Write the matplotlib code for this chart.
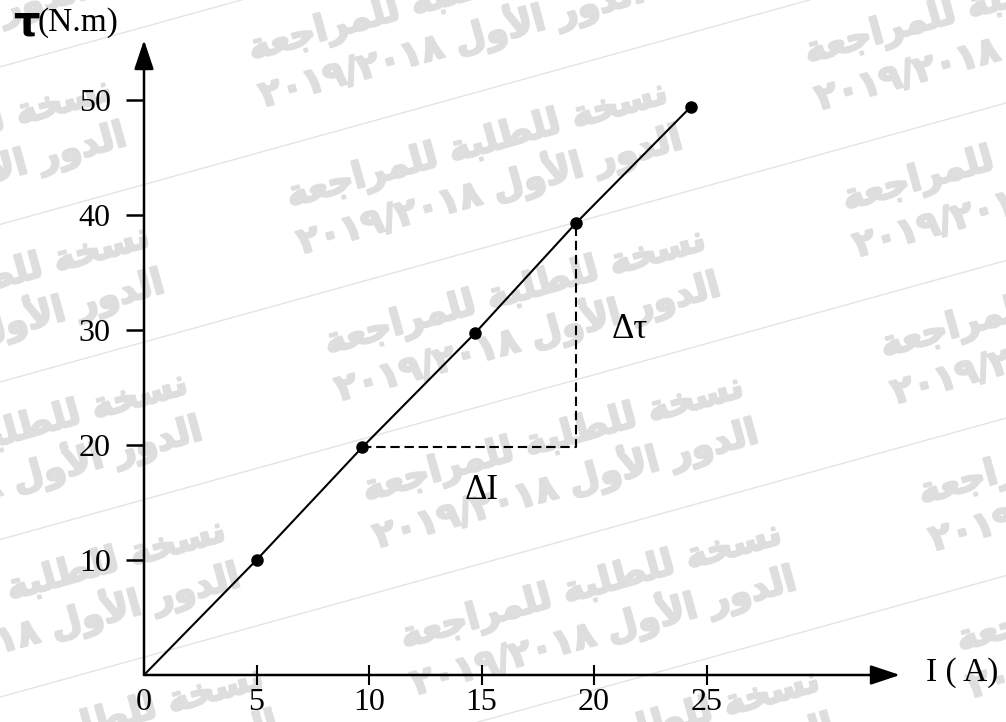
import numpy as np
import matplotlib
matplotlib.use("Agg")
import matplotlib.pyplot as plt
import matplotlib.patheffects as pe
from matplotlib.lines import Line2D

# torque vs current
current = [5.0, 9.7, 14.7, 19.2, 24.3]
torque = [10.0, 19.8, 29.7, 39.3, 49.4]
x_ticks = [0, 5, 10, 15, 20, 25]
y_ticks = [10, 20, 30, 40, 50]

# watermark text (pre-shaped Arabic presentation forms, visual order)
wm_line1 = ("\uFE94\uFECC\uFE9F\uFE8D\uFEAE\uFEE4\uFEE0\uFEDF "
            "\uFE94\uFE92\uFEE0\uFEC4\uFEE0\uFEDF "
            "\uFE94\uFEA8\uFEB4\uFEE7")
wm_line2 = ("\u0662\u0660\u0661\u0669/\u0662\u0660\u0661\u0668 "
            "\uFEDD\uFEED\uFEF7\uFE8D "
            "\uFEAD\uFEED\uFEAA\uFEDF\uFE8D")

plt.rcParams["font.family"] = ["Liberation Serif", "DejaVu Serif"]

W, H = 1006, 722
fig = plt.figure(figsize=(W / 100, H / 100), dpi=100)


def fx(x):
    return x / W


def fy(y):
    return 1 - y / H


# watermark: tiled two-line blocks plus thin slanted rules
ang = 15.5
v1 = (38, 147)
v2 = (518, -144)
wm_color = "#dedede"
for i in range(-4, 9):
    for j in range(-3, 4):
        cx = 484 + i * v1[0] + j * v2[0]
        cy = 169 + i * v1[1] + j * v2[1]
        if -260 < cx < 1270 and -120 < cy < 850:
            fig.text(fx(cx), fy(cy), wm_line1 + "\n" + wm_line2,
                     family="DejaVu Sans", fontweight="bold", fontsize=26,
                     color=wm_color, rotation=ang, rotation_mode="anchor",
                     ha="center", va="center", multialignment="center",
                     linespacing=1.15, zorder=-5,
                     path_effects=[pe.withStroke(linewidth=1.6, foreground=wm_color)])
slope = np.tan(np.radians(ang))
for i in range(-4, 10):
    px = 484 + (i - 0.5) * v1[0]
    py = 169 + (i - 0.5) * v1[1]
    xs = np.array([-20, W + 20])
    ys = py - slope * (xs - px)
    fig.add_artist(Line2D(fx(xs), fy(ys), color="#e4e4e4", lw=1.0, zorder=-4))

ox, oy = 144, 675
ax = fig.add_axes([ox / W, (H - oy) / H, (900 - ox) / W, (oy - 40) / H])
ax.set_zorder(1)
ax.patch.set_visible(False)
ax.set_xlim(0, (900 - ox) / 22.5)
ax.set_ylim(0, (oy - 40) / 11.5)
for s in ax.spines.values():
    s.set_visible(False)

arrow = dict(arrowstyle="-|>,head_length=0.9,head_width=0.3", mutation_scale=20,
             lw=1.8, color="black", shrinkA=0, shrinkB=0)
ax.annotate("", xy=(1, 0), xytext=(0, 0), xycoords="axes fraction",
            arrowprops=arrow, annotation_clip=False)
ax.annotate("", xy=(0, 1), xytext=(0, 0), xycoords="axes fraction",
            arrowprops=arrow, annotation_clip=False)

ax.plot([0] + current, [0] + torque, color="black", lw=1.5, zorder=3)
ax.plot(current, torque, "o", color="black", ms=8, zorder=4)
ax.plot([current[1], current[3], current[3]], [torque[1], torque[1], torque[3]],
        color="black", lw=1.5, ls=(0, (4.5, 2.3)), zorder=2)

ax.set_xticks(x_ticks)
ax.set_xticklabels([str(v) for v in x_ticks])
ax.set_yticks(y_ticks)
ax.set_yticklabels([str(v) for v in y_ticks])
ax.tick_params(axis="x", direction="inout", length=14, width=1.5, pad=2,
               labelsize=23)
ax.tick_params(axis="y", direction="out", length=13, width=1.8, pad=11,
               labelsize=23)
ax.xaxis.get_major_ticks()[0].tick1line.set_visible(False)

ax.text(21.6, 29.3, "Δτ", fontsize=25, ha="center", va="baseline")
ax.text(15.0, 15.3, "ΔI", fontsize=25, ha="center", va="baseline")

fig.text(fx(26), fy(24), "τ", family="DejaVu Sans", fontweight="bold",
         fontsize=30, ha="center", va="center")
fig.text(fx(78), fy(23), "(N.m)", fontsize=24, ha="center", va="center")
fig.text(fx(962), fy(673), "I ( A)", fontsize=24, ha="center", va="center")

fig.savefig("out.png", dpi=100)
